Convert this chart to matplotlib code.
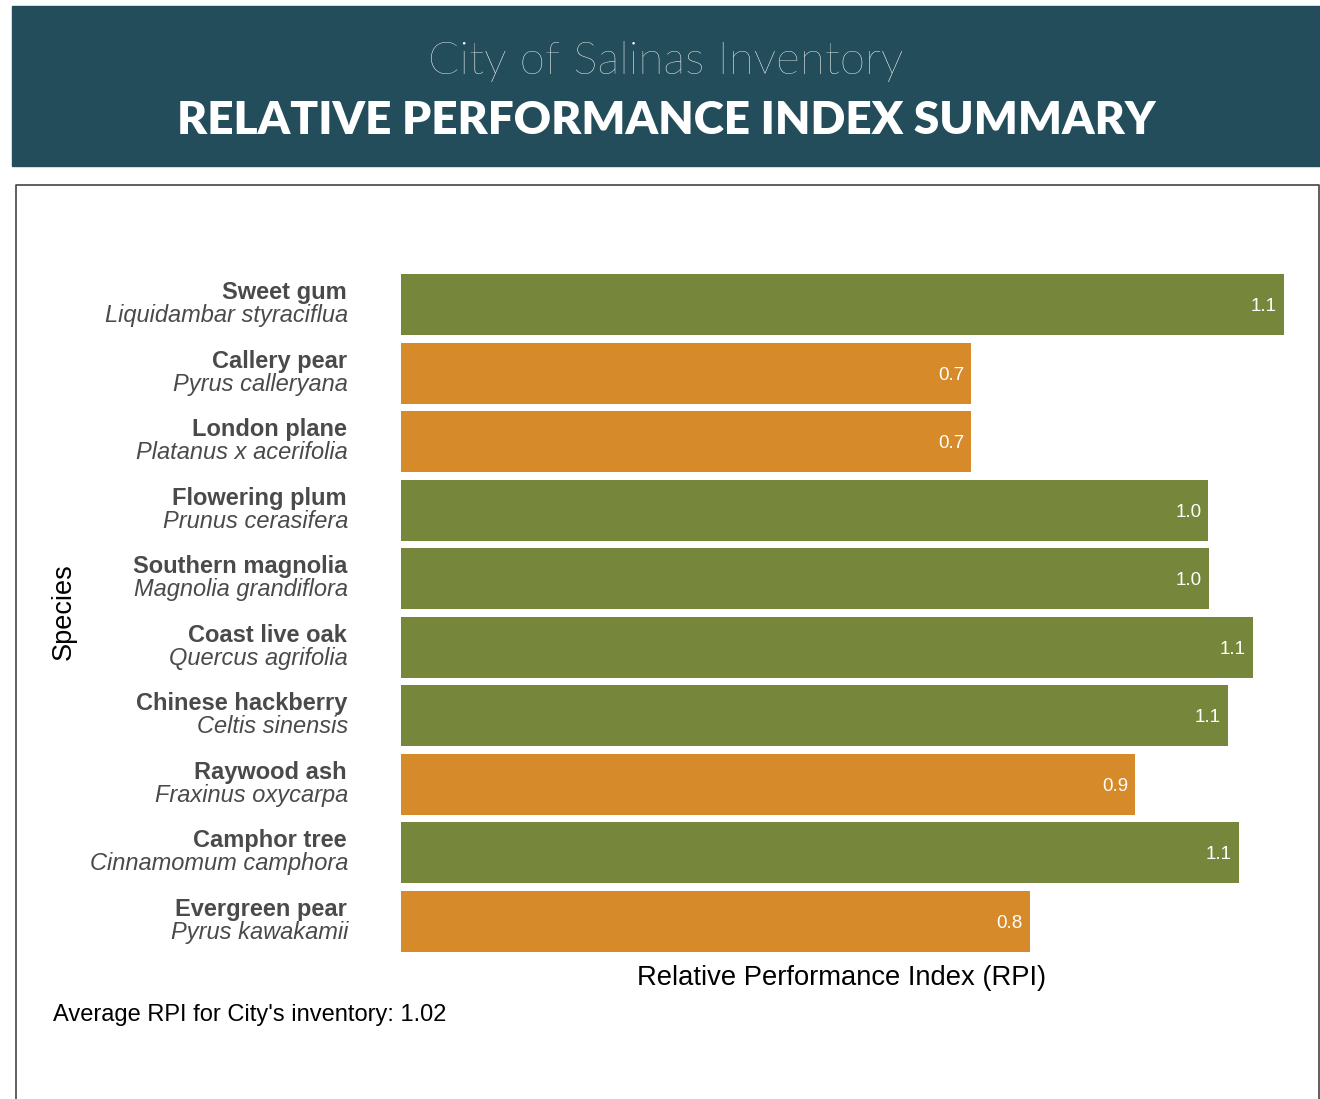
import matplotlib.pyplot as plt
from matplotlib.patches import Rectangle

# data
common = ["Sweet gum", "Callery pear", "London plane", "Flowering plum",
          "Southern magnolia", "Coast live oak", "Chinese hackberry",
          "Raywood ash", "Camphor tree", "Evergreen pear"]
scientific = ["Liquidambar styraciflua", "Pyrus calleryana", "Platanus x acerifolia",
              "Prunus cerasifera", "Magnolia grandiflora", "Quercus agrifolia",
              "Celtis sinensis", "Fraxinus oxycarpa", "Cinnamomum camphora",
              "Pyrus kawakamii"]
rpi = [1.132, 0.731, 0.731, 1.035, 1.036, 1.092, 1.060, 0.941, 1.074, 0.806]
average_rpi = 1.02

GREEN = "#76873b"
ORANGE = "#d68a2a"
HEADER = "#234d5b"

W, H = 1320, 1099
fig = plt.figure(figsize=(W / 100, H / 100), dpi=100)
plt.rcParams["font.family"] = ["Liberation Sans", "DejaVu Sans"]

# header band and panel frame, in pixel-ish figure coords
bg = fig.add_axes([0, 0, 1, 1])
bg.set_xlim(0, W)
bg.set_ylim(H, 0)
bg.axis("off")
bg.add_patch(Rectangle((12, 6), 1308, 160, color=HEADER))
bg.plot([16, 16, 1319, 1319], [1099, 185, 185, 1099], color="#444444", lw=1.2)
bg.text(666, 62, "City of Salinas Inventory", color="white", ha="center", va="center",
        fontsize=33, family="Lato", fontweight="light")
bg.text(666, 121, "RELATIVE PERFORMANCE INDEX SUMMARY", color="white", ha="center",
        va="center", fontsize=33, family="Lato", fontweight="heavy")

# bar chart
ax = fig.add_axes([401 / W, 1 - 952 / H, (1284 - 401) / W, (952 - 274) / H])
y = list(range(len(common)))
colors = [GREEN if v >= 1.0 else ORANGE for v in rpi]
ax.barh(y, rpi, height=0.89, color=colors)
ax.set_xlim(0, max(rpi))
ax.set_ylim(len(common) - 1 + 0.445, -0.445)
for s in ax.spines.values():
    s.set_visible(False)
ax.set_xticks([])
ax.set_yticks([])

for i, v in enumerate(rpi):
    ax.annotate(f"{v:.1f}", (v, i), xytext=(-7, -2), textcoords="offset pixels",
                ha="right", va="center", color="white", fontsize=13.5)
    ax.annotate(common[i], (0, i), xytext=(-54, 12), textcoords="offset pixels",
                ha="right", va="center", color="#4a4a4a", fontsize=17,
                fontweight="bold")
    ax.annotate(scientific[i], (0, i), xytext=(-53, -11), textcoords="offset pixels",
                ha="right", va="center", color="#4a4a4a", fontsize=17,
                style="italic")

bg.text(64, 612, "Species", rotation=90, ha="center", va="center", fontsize=19.5)
bg.text(842, 978, "Relative Performance Index (RPI)", ha="center", va="center",
        fontsize=19.7)
bg.text(53, 1015, f"Average RPI for City's inventory: {average_rpi:.2f}",
        ha="left", va="center", fontsize=17)

fig.savefig("out.png", dpi=100)
